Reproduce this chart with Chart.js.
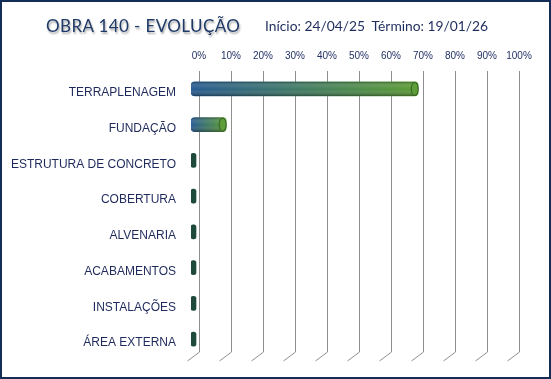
<!DOCTYPE html>
<html><head><meta charset="utf-8">
<script src="https://cdn.jsdelivr.net/npm/chart.js@4/dist/chart.umd.min.js"></script>
<style>
html,body{margin:0;padding:0;background:#fff;}
#wrap{position:relative;width:551px;height:379px;overflow:hidden;background:#fff;}
#c{position:absolute;left:0;top:0;}
#frame{position:absolute;left:0;top:0;width:551px;height:379px;box-sizing:border-box;border:2px solid #142d57;pointer-events:none;}
#t1{position:absolute;left:46px;top:15px;font-family:Lato,"Open Sans",sans-serif;font-size:17px;letter-spacing:0.4px;color:#1f3a68;text-shadow:1px 2px 2px rgba(0,0,0,0.35);white-space:nowrap;}
#t2{position:absolute;left:265px;top:17px;font-family:Lato,"Open Sans",sans-serif;font-size:13.8px;color:#1f2d5c;white-space:nowrap;}
</style></head>
<body><div id="wrap">
<canvas id="c" width="551" height="379"></canvas>
<div id="t1">OBRA 140 - EVOLUÇÃO</div>
<div id="t2">Início: 24/04/25&nbsp; Término: 19/01/26</div>
<div id="frame"></div>
</div>
<script>
const categories = ['TERRAPLENAGEM','FUNDAÇÃO','ESTRUTURA DE CONCRETO','COBERTURA','ALVENARIA','ACABAMENTOS','INSTALAÇÕES','ÁREA EXTERNA'];
const progress = [71, 11, 0, 0, 0, 0, 0, 0];
const tickValues = [0,10,20,30,40,50,60,70,80,90,100];

const DX = -8, DY = -4;
const plugin3d = {
  id: 'plugin3d',
  beforeDatasetsDraw(chart) {
    const ctx = chart.ctx, xs = chart.scales.x, a = chart.chartArea;
    ctx.save();
    ctx.strokeStyle = '#8e8e8e';
    ctx.lineWidth = 1;
    tickValues.forEach(v => {
      const x = Math.round(xs.getPixelForValue(v)) + 0.5;
      ctx.beginPath();
      ctx.moveTo(x, a.top - 4);
      ctx.lineTo(x, a.bottom - 9);
      ctx.lineTo(x - 12, a.bottom);
      ctx.stroke();
    });
    ctx.restore();
    ctx.save();
    ctx.translate(DX, DY);
  },
  afterDatasetsDraw(chart) {
    const ctx = chart.ctx;
    const meta = chart.getDatasetMeta(0);
    meta.data.forEach((el, i) => {
      if (!progress[i]) return;
      const p = el.getProps(['x','y','base','height'], true);
      const x0 = Math.min(p.base, p.x), x1 = Math.max(p.base, p.x);
      const h = p.height, y0 = p.y - h/2, r = 4;
      ctx.save();
      ctx.beginPath();
      ctx.roundRect(x0, y0, x1 - x0, h, r);
      const g = ctx.createLinearGradient(0, y0, 0, y0 + h);
      g.addColorStop(0, 'rgba(0,0,0,0.30)');
      g.addColorStop(0.25, 'rgba(255,255,255,0.10)');
      g.addColorStop(0.55, 'rgba(255,255,255,0.0)');
      g.addColorStop(1, 'rgba(0,0,0,0.35)');
      ctx.fillStyle = g;
      ctx.fill();
      ctx.beginPath();
      ctx.ellipse(x1 - 3.5, p.y, 3.5, h/2 - 0.5, 0, 0, Math.PI*2);
      ctx.fillStyle = '#5f9c3a';
      ctx.fill();
      ctx.strokeStyle = '#2f5e22';
      ctx.lineWidth = 1;
      ctx.stroke();
      ctx.restore();
    });
    ctx.restore();
  }
};

new Chart(document.getElementById('c'), {
  type: 'bar',
  data: {
    labels: categories,
    datasets: [{
      data: progress,
      barThickness: 14,
      minBarLength: 5,
      borderRadius: 4,
      borderSkipped: false,
      backgroundColor: (c) => {
        const chart = c.chart;
        if (!chart.chartArea) return '#2a5a8e';
        const v = c.raw;
        if (!v) return '#1d4a3a';
        const xs = chart.scales.x;
        const g = chart.ctx.createLinearGradient(xs.getPixelForValue(0), 0, xs.getPixelForValue(v), 0);
        g.addColorStop(0, '#285b90');
        g.addColorStop(1, '#5c9c33');
        return g;
      }
    }]
  },
  options: {
    indexAxis: 'y',
    responsive: false,
    animation: false,
    layout: { padding: { top: 50, right: 32, bottom: 18, left: 0 } },
    plugins: { legend: { display: false }, tooltip: { enabled: false } },
    scales: {
      x: {
        position: 'top',
        min: 0, max: 100,
        afterFit: s => { s.height = 25; s.paddingLeft = 0; s.paddingRight = 0; },
        afterBuildTicks: s => { s.ticks = tickValues.map(v => ({ value: v })); },
        ticks: { padding: 13, color: '#243266', font: { family: 'Liberation Sans', size: 10 }, callback: v => v + '%' },
        grid: { display: false, drawTicks: false },
        border: { display: false }
      },
      y: {
        afterFit: s => { s.width = 199; s.paddingTop = 0; s.paddingBottom = 0; },
        ticks: { padding: 23, color: '#1f2a5c', font: { family: 'Liberation Sans', size: 12 } },
        grid: { display: false, drawTicks: false },
        border: { display: false }
      }
    }
  },
  plugins: [plugin3d]
});
</script>
</body></html>
